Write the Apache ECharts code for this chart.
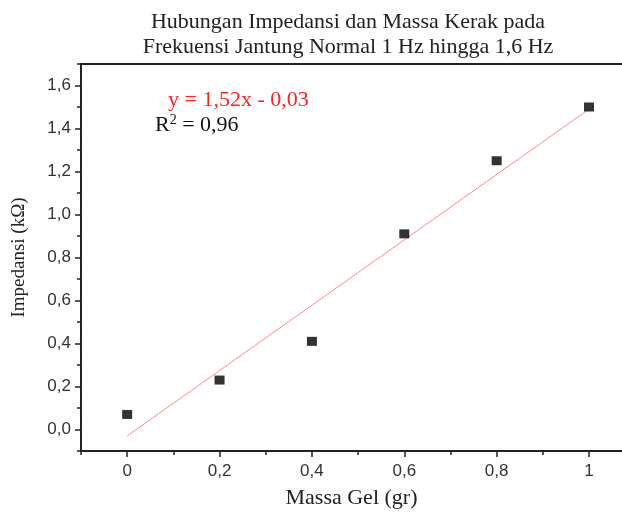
<!DOCTYPE html>
<html>
<head>
<meta charset="utf-8">
<script src="https://cdn.jsdelivr.net/npm/echarts@6/dist/echarts.min.js"></script>
<style>
  html, body { margin: 0; padding: 0; background: #fff; }
  #chart { width: 622px; height: 514px; }
</style>
</head>
<body>
<div id="chart"></div>
<script>
// Measured impedance against gel mass
const massaGel = [0, 0.2, 0.4, 0.6, 0.8, 1.0];
const impedansi = [0.07, 0.23, 0.41, 0.91, 1.25, 1.50];

// Linear fit coefficients as reported on the chart
const fitSlope = 1.52;
const fitIntercept = -0.03;
const rSquared = 0.96;
const fitRange = [0, 1];

// Tick positions
const xMajorTicks = [0, 0.2, 0.4, 0.6, 0.8, 1.0];
const xMinorTicks = [-0.1, 0.1, 0.3, 0.5, 0.7, 0.9];
const yMajorTicks = [0, 0.2, 0.4, 0.6, 0.8, 1.0, 1.2, 1.4, 1.6];
const yMinorTicks = [-0.1, 0.1, 0.3, 0.5, 0.7, 0.9, 1.1, 1.3, 1.5, 1.7];

const fitLine = fitRange.map(x => [x, +(fitSlope * x + fitIntercept).toFixed(4)]);
const comma = v => String(v).replace('.', ',');

const serif = '"Liberation Serif", "DejaVu Serif", serif';
const sans = '"Liberation Sans", Arial, sans-serif';
const axisColor = '#222';

const xRange = { min: -0.1, max: 1.0714 };
const yRange = { min: -0.1, max: 1.7 };

// An extra axis that only draws a set of tick marks
function tickAxis(range, position, values, length) {
  return {
    type: 'value', position, ...range,
    axisLine: { show: false, onZero: false },
    axisTick: { show: true, inside: false, length, customValues: values, lineStyle: { color: axisColor, width: 1.5 } },
    axisLabel: { show: false },
    splitLine: { show: false }
  };
}

const chart = echarts.init(document.getElementById('chart'), null, { renderer: 'canvas' });

chart.setOption({
  animation: false,
  backgroundColor: '#fff',
  title: {
    text: 'Hubungan Impedansi dan Massa Kerak pada\nFrekuensi Jantung Normal 1 Hz hingga 1,6 Hz',
    left: 343,
    textAlign: 'center',
    top: 5,
    textStyle: { fontFamily: serif, fontSize: 22, fontWeight: 'normal', color: '#222', lineHeight: 25 }
  },
  grid: { left: 81, right: 0, top: 64, bottom: 61, containLabel: false },
  xAxis: [
    {
      type: 'value', position: 'bottom', ...xRange,
      name: 'Massa Gel (gr)', nameLocation: 'middle', nameGap: 36,
      nameTextStyle: { fontFamily: serif, fontSize: 22, color: '#222' },
      axisLine: { show: true, onZero: false, lineStyle: { color: axisColor, width: 2 } },
      axisTick: { show: false },
      axisLabel: { show: true, customValues: xMajorTicks, margin: 12, formatter: v => comma(+v.toFixed(1)),
        fontFamily: sans, fontSize: 17, color: '#333' },
      splitLine: { show: false }
    },
    tickAxis(xRange, 'bottom', xMajorTicks, 6),
    tickAxis(xRange, 'bottom', xMinorTicks, 4),
    {
      type: 'value', position: 'top', ...xRange,
      axisLine: { show: true, onZero: false, lineStyle: { color: axisColor, width: 2 } },
      axisTick: { show: false },
      axisLabel: { show: false },
      splitLine: { show: false }
    }
  ],
  yAxis: [
    {
      type: 'value', position: 'left', ...yRange,
      name: 'Impedansi (kΩ)', nameLocation: 'middle', nameGap: 52, nameRotate: 90,
      nameTextStyle: { fontFamily: serif, fontSize: 19, color: '#222' },
      axisLine: { show: true, onZero: false, lineStyle: { color: axisColor, width: 2 } },
      axisTick: { show: false },
      axisLabel: { show: true, customValues: yMajorTicks, margin: 10, formatter: v => comma(v.toFixed(1)),
        fontFamily: sans, fontSize: 17, color: '#333' },
      splitLine: { show: false }
    },
    tickAxis(yRange, 'left', yMajorTicks, 6),
    tickAxis(yRange, 'left', yMinorTicks, 4)
  ],
  series: [
    {
      name: 'Regresi linear',
      type: 'line',
      xAxisIndex: 0, yAxisIndex: 0,
      data: fitLine,
      showSymbol: false,
      lineStyle: { color: '#ff8a8a', width: 1 },
      z: 2
    },
    {
      name: 'Impedansi',
      type: 'scatter',
      xAxisIndex: 0, yAxisIndex: 0,
      data: massaGel.map((x, i) => [x, impedansi[i]]),
      symbol: 'rect',
      symbolSize: [10, 9],
      itemStyle: { color: '#000' },
      z: 3
    }
  ],
  graphic: [
    {
      type: 'text', left: 168, top: 89,
      style: {
        text: 'y = ' + comma(fitSlope) + 'x - ' + comma(Math.abs(fitIntercept).toFixed(2)),
        fontFamily: serif, fontSize: 22, fill: '#ff2020'
      }
    },
    {
      type: 'text', left: 155, top: 113,
      style: {
        text: '{b|R}{s|2}{b| = ' + comma(rSquared) + '}',
        rich: {
          b: { fontFamily: serif, fontSize: 22, fill: '#111', verticalAlign: 'bottom' },
          s: { fontFamily: serif, fontSize: 14, fill: '#111', padding: [0, 0, 9, 0], verticalAlign: 'bottom' }
        }
      }
    }
  ]
});
</script>
</body>
</html>
